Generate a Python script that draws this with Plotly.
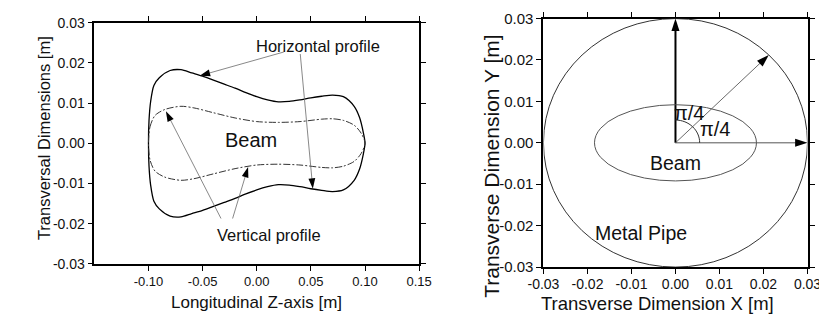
import plotly.graph_objects as go

# ---------------- data: left panel (beam profiles) ----------------
horiz_top_x = [-0.100, -0.0995, -0.098, -0.095, -0.090, -0.080, -0.070, -0.060, -0.050, -0.040,
               -0.030, -0.020, -0.010, 0.000, 0.010, 0.020, 0.030, 0.040, 0.050, 0.060,
               0.070, 0.080, 0.090, 0.095, 0.0985, 0.100]
horiz_top_y = [0.000, 0.0057, 0.0104, 0.0144, 0.0163, 0.0181, 0.0183, 0.0175, 0.0167, 0.0157,
               0.0147, 0.0137, 0.0126, 0.0116, 0.0108, 0.0103, 0.0104, 0.0108, 0.0113, 0.0117,
               0.0120, 0.0116, 0.0092, 0.0064, 0.0026, 0.000]
horiz_bot_x = [0.0985, 0.095, 0.090, 0.080, 0.070, 0.060, 0.050, 0.040, 0.030, 0.020,
               0.010, 0.000, -0.010, -0.020, -0.030, -0.040, -0.050, -0.060, -0.070, -0.080,
               -0.090, -0.095, -0.098, -0.0995, -0.100]
horiz_bot_y = [-0.0026, -0.0064, -0.0092, -0.0116, -0.0120, -0.0117, -0.0113, -0.0108, -0.0104, -0.0103,
               -0.0108, -0.0116, -0.0126, -0.0137, -0.0147, -0.0157, -0.0167, -0.0175, -0.0183, -0.0181,
               -0.0163, -0.0144, -0.0104, -0.0057, 0.000]

vert_top_x = [-0.100, -0.0986, -0.094, -0.085, -0.070, -0.058, -0.040, -0.020, 0.000, 0.020,
              0.040, 0.060, 0.070, 0.080, 0.090, 0.0965, 0.100]
vert_top_y = [0.000, 0.0041, 0.0069, 0.0084, 0.0092, 0.0088, 0.0076, 0.0063, 0.0054, 0.0052,
              0.0054, 0.0060, 0.0061, 0.0057, 0.0045, 0.0025, 0.000]
vert_bot_x = [0.0965, 0.090, 0.080, 0.070, 0.060, 0.040, 0.020, 0.000, -0.020, -0.040,
              -0.058, -0.070, -0.085, -0.094, -0.0986, -0.100]
vert_bot_y = [-0.0025, -0.0045, -0.0057, -0.0061, -0.0060, -0.0054, -0.0052, -0.0054, -0.0063, -0.0076,
              -0.0088, -0.0092, -0.0084, -0.0069, -0.0041, 0.000]

# annotation arrows (tail -> tip), left panel
left_arrow_tail_x = [0.0250, 0.0402, -0.0330, -0.0223]
left_arrow_tail_y = [0.0227, 0.0222, -0.0187, -0.0187]
left_arrow_tip_x = [-0.0527, 0.0518, -0.0839, -0.0080]
left_arrow_tip_y = [0.0168, -0.0113, 0.0080, -0.0059]

left_x_ticks = [-0.10, -0.05, 0.00, 0.05, 0.10, 0.15]
left_x_ticktext = ["-0.10", "-0.05", "0.00", "0.05", "0.10", "0.15"]
left_y_ticks = [-0.03, -0.02, -0.01, 0.00, 0.01, 0.02, 0.03]
left_y_ticktext = ["-0.03", "-0.02", "-0.01", "0.00", "0.01", "0.02", "0.03"]

# ---------------- data: right panel (cross-section) ----------------
pipe_radius = 0.03
beam_semi_x = 0.0184
beam_semi_y = 0.0092
angle_arc_radius = 0.0055

right_arrow_tip_x = [0.0, 0.03, 0.0212]
right_arrow_tip_y = [0.03, 0.0, 0.0212]
right_arrow_colors = ["#000000", "#555555", "#444444"]
right_arrow_widths = [2.0, 1.0, 0.8]

right_ticks = [-0.03, -0.02, -0.01, 0.00, 0.01, 0.02, 0.03]
right_ticktext = ["-0.03", "-0.02", "-0.01", "0.00", "0.01", "0.02", "0.03"]

FONT = "Liberation Sans, Arial, Helvetica, sans-serif"
W, H = 827, 320

fig = go.Figure()

# horizontal profile (solid)
fig.add_trace(go.Scatter(
    x=horiz_top_x + horiz_bot_x, y=horiz_top_y + horiz_bot_y,
    mode="lines", line=dict(color="#000000", width=1.3, shape="spline", smoothing=0.8),
    xaxis="x", yaxis="y", showlegend=False, hoverinfo="skip"))
# vertical profile (dash-dot)
fig.add_trace(go.Scatter(
    x=vert_top_x + vert_bot_x, y=vert_top_y + vert_bot_y,
    mode="lines", line=dict(color="#333333", width=1.0, shape="spline", smoothing=0.8,
                            dash="7px,2px,2px,2px"),
    xaxis="x", yaxis="y", showlegend=False, hoverinfo="skip"))

# left arrows
for tx, ty, hx, hy in zip(left_arrow_tail_x, left_arrow_tail_y, left_arrow_tip_x, left_arrow_tip_y):
    fig.add_trace(go.Scatter(
        x=[tx, hx], y=[ty, hy], mode="lines+markers",
        line=dict(color="#6a6a6a", width=0.8),
        marker=dict(symbol="arrow", size=11, angleref="previous", color="#000000"),
        xaxis="x", yaxis="y", showlegend=False, hoverinfo="skip"))

# right arrows
for hx, hy, c, w in zip(right_arrow_tip_x, right_arrow_tip_y, right_arrow_colors, right_arrow_widths):
    fig.add_trace(go.Scatter(
        x=[0.0, hx], y=[0.0, hy], mode="lines+markers",
        line=dict(color=c, width=w),
        marker=dict(symbol="arrow", size=13, angleref="previous", color="#000000"),
        xaxis="x2", yaxis="y2", showlegend=False, hoverinfo="skip"))

k = 0.5523 * angle_arc_radius
shapes = [
    dict(type="circle", xref="x2", yref="y2", x0=-pipe_radius, y0=-pipe_radius,
         x1=pipe_radius, y1=pipe_radius, line=dict(color="#333333", width=1)),
    dict(type="circle", xref="x2", yref="y2", x0=-beam_semi_x, y0=-beam_semi_y,
         x1=beam_semi_x, y1=beam_semi_y, line=dict(color="#555555", width=1)),
    dict(type="path", xref="x2", yref="y2",
         path=f"M 0,{angle_arc_radius} C {k},{angle_arc_radius} {angle_arc_radius},{k} {angle_arc_radius},0",
         line=dict(color="#333333", width=1)),
]

def txt(text, x, y, size, xref, yref, angle=0):
    return dict(text=text, x=x, y=y, xref=xref, yref=yref, showarrow=False,
                font=dict(family=FONT, size=size, color="#111111"),
                xanchor="center", yanchor="middle", textangle=angle)

annotations = [
    txt("Horizontal profile", 0.057, 0.0242, 16.5, "x", "y"),
    txt("Beam", -0.0055, 0.0007, 20, "x", "y"),
    txt("Vertical profile", 0.0116, -0.0227, 16.5, "x", "y"),
    txt("Beam", 0.0, -0.0049, 19.5, "x2", "y2"),
    txt("Metal Pipe", -0.0079, -0.0217, 19.5, "x2", "y2"),
    txt("π/4", 0.0031, 0.0073, 20, "x2", "y2"),
    txt("π/4", 0.0089, 0.0033, 20, "x2", "y2"),
    # axis titles
    txt("Longitudinal Z-axis [m]", 241.7 / W, (H - 301.7) / H, 17, "paper", "paper"),
    txt("Transversal Dimensions [m]", 21 / W, (H - 128.3) / H, 16.5, "paper", "paper", -90),
    txt("Transverse Dimension X [m]", 657.5 / W, (H - 303) / H, 18.5, "paper", "paper"),
    txt("Transverse Dimension Y [m]", 485 / W, (H - 158.3) / H, 21, "paper", "paper", -90),
]

axis_common = dict(showgrid=False, zeroline=False, showline=True, linecolor="#000000",
                   ticks="outside", ticklen=5, tickcolor="#000000", mirror="ticks")

fig.update_layout(
    width=W, height=H,
    margin=dict(l=0, r=0, t=0, b=0),
    paper_bgcolor="white", plot_bgcolor="white",
    font=dict(family=FONT, color="#111111"),
    xaxis=dict(domain=[73 / W, 410 / W], range=[-0.15, 0.15], tickvals=left_x_ticks,
               ticktext=left_x_ticktext, tickfont=dict(size=13), linewidth=1.5,
               anchor="y", **axis_common),
    yaxis=dict(domain=[(H - 261) / H, (H - 7) / H], range=[-0.03, 0.03], tickvals=left_y_ticks,
               ticktext=left_y_ticktext, tickfont=dict(size=14), linewidth=1.5,
               anchor="x", **axis_common),
    xaxis2=dict(domain=[539 / W, 813 / W], range=[-0.03, 0.03], tickvals=right_ticks,
                ticktext=right_ticktext, tickfont=dict(size=14), linewidth=2,
                ticklabelstandoff=-2, anchor="y2", **axis_common),
    yaxis2=dict(domain=[(H - 264.3) / H, (H - 2.7) / H], range=[-0.03, 0.03], tickvals=right_ticks,
                ticktext=right_ticktext, tickfont=dict(size=15), linewidth=2,
                anchor="x2", **axis_common),
    shapes=shapes,
    annotations=annotations,
)

fig.write_html("out.html")
